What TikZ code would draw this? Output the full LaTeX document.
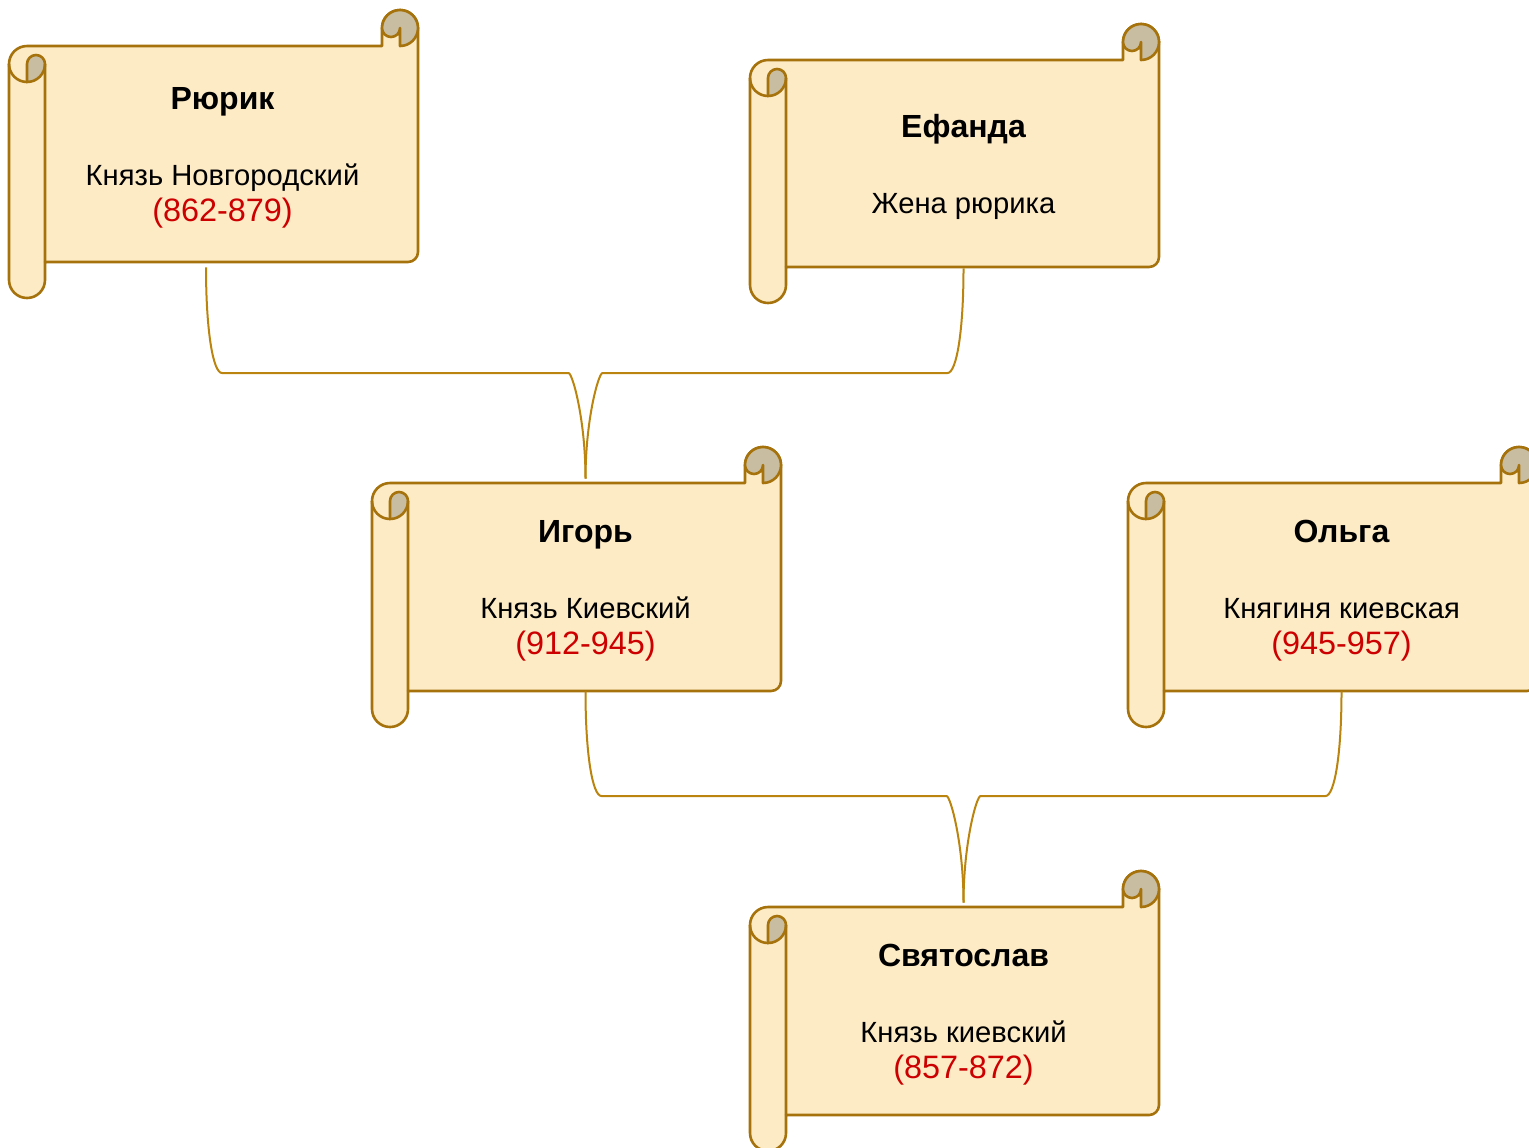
\documentclass[tikz,border=0pt]{standalone}
\usepackage{fontspec}
\setmainfont{Liberation Sans}
\usepackage{xcolor}
\usetikzlibrary{calc}
\definecolor{parch}{HTML}{FDEBC6}
\definecolor{parchline}{HTML}{A5720C}
\definecolor{curlfill}{HTML}{C9BDA1}
\definecolor{linkc}{HTML}{BA840E}
\definecolor{dates}{HTML}{CC0000}
\tikzset{
  sheet/.style={draw=parchline,fill=parch,line width=1.3pt,line join=round},
  curl/.style={draw=parchline,fill=curlfill,line width=1.3pt,line join=round},
  rim/.style={draw=parchline,line width=1.3pt},
  txt/.style={align=center,inner sep=0pt,font=\fontsize{14.6}{18}\selectfont},
  link/.style={draw=linkc,line width=1pt},
}
\newcommand{\who}[1]{\rule{0pt}{14.7pt}{\fontsize{16}{18}\selectfont\bfseries #1}}
\newcommand{\reign}[1]{{\fontsize{16.2}{18}\selectfont\color{dates}#1}}
% #1 name, #2 left, #3 top, #4 height, #5 text
\newcommand{\scroll}[5]{%
  \begin{scope}[shift={(#2,#3)}]
    \path[sheet] (373,36) -- (18,36) arc[start angle=270,end angle=180,radius=18]
      -- (0,{#4-18}) arc[start angle=180,end angle=0,radius=18] -- (36,{#4-36})
      -- (399,{#4-36}) arc[start angle=90,end angle=0,radius=10]
      -- (409,18) arc[start angle=0,end angle=-180,radius=18] -- cycle;
    \path[curl] (373,18) arc[start angle=180,end angle=450,radius=18] -- (391,18)
      arc[start angle=0,end angle=180,radius=9] -- cycle;
    \path[curl] (18,54) arc[start angle=180,end angle=360,radius=9]
      arc[start angle=0,end angle=90,radius=18] -- cycle;
    \draw[rim] (0,54) arc[start angle=180,end angle=90,radius=18] (36,54) -- (36,{#4-36});
    \node[txt,minimum width=195.5pt,minimum height={(#4-72)*0.5pt}] (#1) at (213.5,{#4/2}) {#5};
  \end{scope}}

\begin{document}
\begin{tikzpicture}[x=0.5pt,y=-0.5pt]
  \useasboundingbox (0,0) rectangle (1529,1147);
  \clip (0,0) rectangle (1529,1147);

  \scroll{rurik}{9}{10}{288}{\who{Рюрик}\\[20pt]Князь Новгородский\\\reign{(862-879)}}
  \scroll{efanda}{750}{24}{279}{\who{Ефанда}\\[20pt]Жена рюрика}
  \scroll{igor}{372}{447}{280}{\who{Игорь}\\[20pt]Князь Киевский\\\reign{(912-945)}}
  \scroll{olga}{1128}{447}{280}{\who{Ольга}\\[20pt]Княгиня киевская\\\reign{(945-957)}}
  \scroll{svyatoslav}{750}{871}{280}{\who{Святослав}\\[20pt]Князь киевский\\\reign{(857-872)}}

  \coordinate (bar1) at (0,373);
  \coordinate (bar2) at (0,796);

  % parents of Igor
  \draw[link] ([shift={(-16.5,5)}]rurik.south) coordinate (r0)
    .. controls +(0,63) and +(-9,0) .. ([shift={(16,0)}]r0 |- bar1)
    -- ([shift={(-17,0)}]igor.north |- bar1)
    .. controls +(4,0) and +(0,-59) .. ([shift={(0,-4)}]igor.north);
  \draw[link] ([shift={(0,1)}]efanda.south)
    .. controls +(0,63) and +(9,0) .. ([shift={(-16,0)}]efanda.south |- bar1)
    -- ([shift={(17,0)}]igor.north |- bar1)
    .. controls +(-4,0) and +(0,-59) .. ([shift={(0,-4)}]igor.north);

  % parents of Svyatoslav
  \draw[link] (igor.south)
    .. controls +(0,63) and +(-9,0) .. ([shift={(16,0)}]igor.south |- bar2)
    -- ([shift={(-17,0)}]svyatoslav.north |- bar2)
    .. controls +(4,0) and +(0,-59) .. ([shift={(0,-4)}]svyatoslav.north);
  \draw[link] (olga.south)
    .. controls +(0,63) and +(9,0) .. ([shift={(-16,0)}]olga.south |- bar2)
    -- ([shift={(17,0)}]svyatoslav.north |- bar2)
    .. controls +(-4,0) and +(0,-59) .. ([shift={(0,-4)}]svyatoslav.north);
\end{tikzpicture}
\end{document}
